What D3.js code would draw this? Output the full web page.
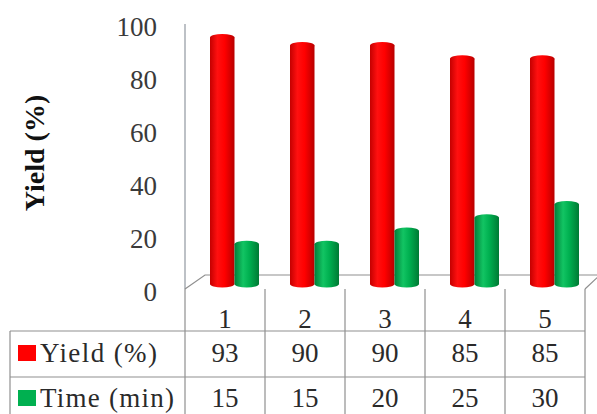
<!DOCTYPE html>
<html><head><meta charset="utf-8">
<script src="https://cdn.jsdelivr.net/npm/d3@7"></script>
<style>
html,body{margin:0;padding:0;background:#fff;}
svg{display:block;}
text{font-family:"Liberation Serif",serif !important;}
</style>
</head><body>
<svg id="chart" width="597" height="414" font-family="Liberation Serif"></svg>
<script>
// Reaction runs and their results
const categories = ["1", "2", "3", "4", "5"];
const seriesNames = ["Yield (%)", "Time (min)"];
const yieldValues = [93, 90, 90, 85, 85];
const timeValues = [15, 15, 20, 25, 30];
const yTicks = [0, 20, 40, 60, 80, 100];

const seriesColors = { "Yield (%)": "red", "Time (min)": "green" };
const seriesValues = { "Yield (%)": yieldValues, "Time (min)": timeValues };

const svg = d3.select("#chart");
const fontName = "Liberation Serif";

const x = d3.scaleBand().domain(categories).range([185, 585]);
const y = d3.scaleLinear().domain([0, 100]).range([289, 24]);
const xs = d3.scaleBand().domain(seriesNames).range([15, 64]);
const depth = { dx: 20, dy: -14 };   // floor depth (3D perspective)
const barShift = { dx: 10, dy: -5 }; // bars stand mid-depth

// Cylinder shading
const defs = svg.append("defs");
function grad(id, stops) {
  const g = defs.append("linearGradient").attr("id", id)
    .attr("x1", "0%").attr("x2", "100%").attr("y1", "0%").attr("y2", "0%");
  stops.forEach(([o, c]) => g.append("stop").attr("offset", o).attr("stop-color", c));
}
grad("red", [["0%", "#c40000"], ["30%", "#ff1010"], ["60%", "#ff0000"], ["100%", "#b80000"]]);
grad("green", [["0%", "#00803a"], ["35%", "#12c463"], ["60%", "#00b050"], ["100%", "#007a34"]]);

const lineColor = "#8f8f8f";

// Wall edge
const x0 = x.range()[0], x1 = x.range()[1];
svg.append("line").attr("x1", x0).attr("x2", x0).attr("y1", y(100)).attr("y2", y(0))
  .attr("stroke", "#9aa0a8").attr("stroke-width", 1.3);

// Floor
const floorPts = [[x0, y(0)], [x0 + depth.dx, y(0) + depth.dy],
                  [x1 + depth.dx - 5, y(0) + depth.dy], [x1, y(0)]];
svg.append("path").attr("d", d3.line()(floorPts))
  .attr("fill", "none").attr("stroke", lineColor).attr("stroke-width", 1.2);

// Y tick labels
svg.append("g").selectAll("text").data(yTicks).join("text")
  .attr("x", 157).attr("y", d => y(d) + 2.5)
  .attr("text-anchor", "end").attr("dominant-baseline", "central")
  .attr("font-family", fontName).attr("font-size", 27).attr("fill", "#3a3a3a")
  .text(d => d);

// Axis title
svg.append("text")
  .attr("transform", "translate(34,153) rotate(-90)")
  .attr("text-anchor", "middle").attr("dominant-baseline", "central")
  .attr("font-family", fontName).attr("font-size", 28).attr("font-weight", "bold")
  .attr("fill", "#111").text("Yield (%)");

// Cylinder bars
const ry = 3.5;
const base = y(0) + barShift.dy;
categories.forEach((c, i) => {
  seriesNames.forEach(s => {
    const v = seriesValues[s][i];
    const bx = x(c) + barShift.dx + xs(s);
    const bw = xs.bandwidth();
    const top = y(v) + barShift.dy;
    const g = svg.append("g");
    const fill = `url(#${seriesColors[s]})`;
    g.append("path")
      .attr("d", `M${bx},${top} L${bx},${base} A${bw / 2},${ry} 0 0 0 ${bx + bw},${base} L${bx + bw},${top} Z`)
      .attr("fill", fill);
    g.append("ellipse").attr("cx", bx + bw / 2).attr("cy", top)
      .attr("rx", bw / 2).attr("ry", ry).attr("fill", fill);
  });
});

// Data table
const tTop = y(0), r1 = 331, r2 = 377, tBottom = 414, tLeft = 10;
const tbl = svg.append("g").attr("stroke", lineColor).attr("stroke-width", 1.2);
const edges = categories.map(c => x(c)).concat([x1]);
tbl.selectAll("line.v").data(edges).join("line")
  .attr("x1", d => d).attr("x2", d => d).attr("y1", tTop).attr("y2", tBottom);
tbl.append("line").attr("x1", tLeft).attr("x2", x1).attr("y1", r1).attr("y2", r1);
tbl.append("line").attr("x1", tLeft).attr("x2", x1).attr("y1", r2).attr("y2", r2);
tbl.append("line").attr("x1", tLeft).attr("x2", tLeft).attr("y1", r1).attr("y2", tBottom);

const cellText = (sel) => sel.attr("text-anchor", "middle").attr("dominant-baseline", "central")
  .attr("font-family", fontName).attr("font-size", 27).attr("fill", "#2a2a2a");

svg.append("g").selectAll("text").data(categories).join("text")
  .attr("x", d => x(d) + x.bandwidth() / 2).attr("y", 319).call(cellText).text(d => d);

const rowY = { "Yield (%)": 353, "Time (min)": 398 };
seriesNames.forEach(s => {
  svg.append("g").selectAll("text").data(seriesValues[s]).join("text")
    .attr("x", (d, i) => x(categories[i]) + x.bandwidth() / 2).attr("y", rowY[s])
    .call(cellText).text(d => d);
  // Legend key in row header
  svg.append("rect").attr("x", 18).attr("y", rowY[s] - 8).attr("width", 18).attr("height", 16)
    .attr("fill", seriesColors[s] === "red" ? "#ff0000" : "#00b050");
  svg.append("text").attr("x", 40).attr("y", rowY[s])
    .attr("dominant-baseline", "central")
    .attr("font-family", fontName).attr("font-size", 27)
    .attr("fill", "#2a2a2a")
    .attr("textLength", s === "Yield (%)" ? 117 : 134).attr("lengthAdjust", "spacing")
    .text(s);
});
</script>
</body></html>
